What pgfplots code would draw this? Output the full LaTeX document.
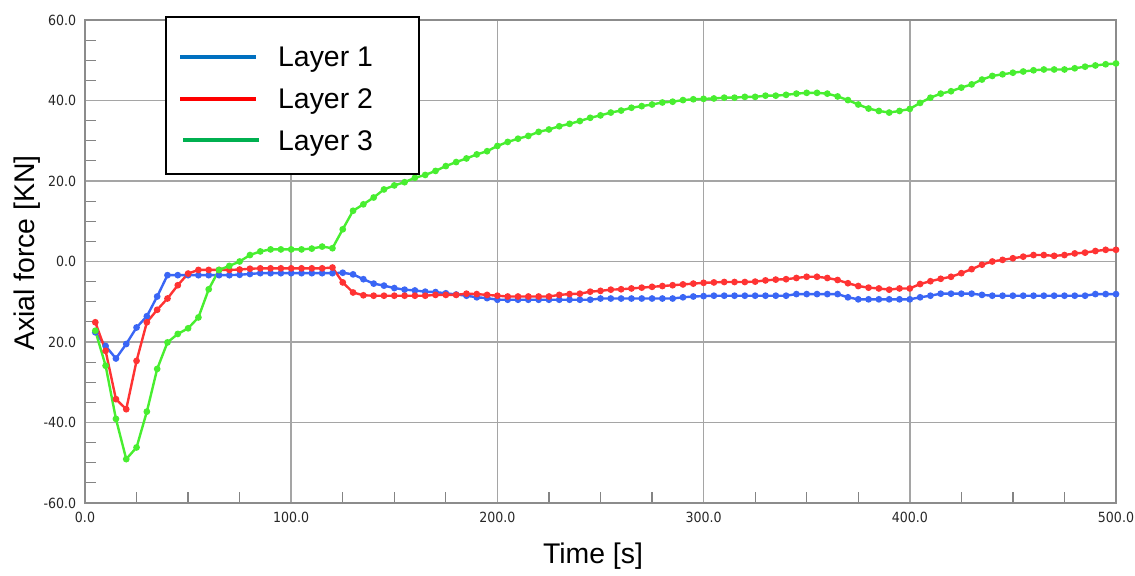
\documentclass[border=0pt]{standalone}
\usepackage{pgfplots}
\pgfplotsset{compat=1.18}
\usepackage{pgfplotstable}
\usepackage{fontspec}
\setmainfont{Liberation Sans}
\newfontfamily\tickfont{DejaVu Sans Condensed}
\definecolor{c1}{RGB}{58,102,245}
\definecolor{c2}{RGB}{255,51,51}
\definecolor{c3}{RGB}{72,238,48}
\definecolor{l1}{RGB}{0,112,192}
\definecolor{l2}{RGB}{255,0,0}
\definecolor{l3}{RGB}{0,176,80}
\definecolor{gridc}{RGB}{165,165,165}
\pgfplotstableread{
t L1 L2 L3
5 -17.6 -15.1 -17.2
10 -21.0 -22.2 -25.9
15 -24.1 -34.2 -39.1
20 -20.5 -36.7 -49.1
25 -16.4 -24.7 -46.2
30 -13.6 -15.1 -37.3
35 -8.7 -12.0 -26.7
40 -3.4 -9.2 -20.1
45 -3.4 -5.9 -18.0
50 -3.4 -3.0 -16.6
55 -3.4 -2.1 -13.9
60 -3.4 -2.1 -6.9
65 -3.4 -2.1 -2.1
70 -3.4 -2.1 -1.1
75 -3.3 -2.0 0.0
80 -3.1 -1.8 1.6
85 -2.9 -1.7 2.5
90 -2.9 -1.7 3.0
95 -2.9 -1.7 3.0
100 -2.9 -1.7 3.0
105 -2.9 -1.7 3.0
110 -2.9 -1.7 3.2
115 -2.9 -1.7 3.7
120 -2.9 -1.5 3.3
125 -2.8 -5.2 8.0
130 -3.2 -7.7 12.6
135 -4.4 -8.4 14.2
140 -5.5 -8.5 15.9
145 -6.0 -8.5 17.9
150 -6.6 -8.5 18.9
155 -7.0 -8.5 19.7
160 -7.2 -8.5 20.8
165 -7.5 -8.5 21.5
170 -7.6 -8.3 22.5
175 -7.9 -8.3 23.7
180 -8.2 -8.3 24.7
185 -8.5 -8.0 25.6
190 -8.9 -8.1 26.6
195 -9.1 -8.3 27.4
200 -9.5 -8.5 28.7
205 -9.5 -8.7 29.7
210 -9.5 -8.7 30.5
215 -9.5 -8.7 31.2
220 -9.5 -8.7 32.2
225 -9.5 -8.7 32.8
230 -9.5 -8.3 33.6
235 -9.5 -8.1 34.2
240 -9.5 -8.0 34.9
245 -9.5 -7.5 35.7
250 -9.2 -7.3 36.3
255 -9.2 -7.0 37.0
260 -9.2 -6.9 37.5
265 -9.2 -6.7 38.2
270 -9.2 -6.5 38.6
275 -9.2 -6.3 39.0
280 -9.2 -6.1 39.5
285 -9.2 -5.9 39.7
290 -8.9 -5.7 40.1
295 -8.7 -5.5 40.3
300 -8.6 -5.3 40.4
305 -8.5 -5.2 40.5
310 -8.5 -5.1 40.7
315 -8.5 -5.1 40.7
320 -8.5 -5.1 40.9
325 -8.5 -5.0 40.9
330 -8.5 -4.7 41.2
335 -8.5 -4.5 41.2
340 -8.5 -4.4 41.4
345 -8.1 -4.1 41.7
350 -8.1 -3.8 41.9
355 -8.1 -3.8 41.9
360 -8.1 -4.1 41.7
365 -8.1 -4.6 41.0
370 -8.9 -5.4 40.1
375 -9.4 -6.1 39.0
380 -9.4 -6.5 38.0
385 -9.4 -6.7 37.4
390 -9.4 -7.0 37.0
395 -9.4 -6.7 37.4
400 -9.4 -6.7 37.9
405 -8.9 -5.6 39.4
410 -8.5 -4.9 40.7
415 -8.0 -4.3 41.7
420 -8.0 -3.8 42.3
425 -8.0 -2.9 43.2
430 -8.0 -1.9 44.0
435 -8.3 -0.8 45.2
440 -8.5 0.0 46.1
445 -8.5 0.4 46.5
450 -8.5 0.8 46.9
455 -8.5 1.2 47.2
460 -8.5 1.6 47.5
465 -8.5 1.6 47.7
470 -8.5 1.4 47.7
475 -8.5 1.6 47.7
480 -8.5 2.0 48.0
485 -8.5 2.2 48.4
490 -8.1 2.6 48.7
495 -8.1 2.9 49.0
500 -8.1 2.9 49.2
}\data
\begin{document}
\begin{tikzpicture}
\begin{axis}[
  name=ax,
  scale only axis,
  width=515.5pt, height=241.5pt,
  xmin=0, xmax=500, ymin=-60, ymax=60,
  xtick={0,100,200,300,400,500},
  xticklabels={0.0,100.0,200.0,300.0,400.0,500.0},
  ytick={-60,-40,-20,0,20,40,60},
  yticklabels={-60.0,-40.0,20.0,0.0,20.0,40.0,60.0},
  minor tick num=3,
  tick pos=left,
  tick align=inside,
  major tick length=0pt,
  minor tick length=5.5pt,
  minor tick style={gridc!80!black, line width=0.6pt},
  grid=major,
  major grid style={gridc, line width=0.75pt},
  axis line style={gridc!85!black, line width=0.75pt},
  ticklabel style={font=\tickfont\fontsize{7}{8}\selectfont, text=black!85, inner sep=0pt},
  xticklabel style={yshift=-4.5pt},
  yticklabel style={xshift=-4.2pt},
  xlabel={Time [s]},
  ylabel={Axial force [KN]},
  label style={font=\fontsize{14.2}{16}\selectfont},
  xlabel style={at={(rel axis cs:0.4927,-0.1097)}, anchor=center},
  ylabel style={at={(rel axis cs:-0.0563,0.5176)}, anchor=center},
  legend style={at={(rel axis cs:0.0776,1.008)}, anchor=north west,
    draw=black, line width=1pt, inner xsep=6pt, inner ysep=10.4pt,
    font=\fontsize{14.2}{16}\selectfont, row sep=9.5pt,
    nodes={inner sep=0pt}, cells={anchor=base west}},
  every axis plot/.append style={line width=1.2pt, mark=*, mark size=1.05pt},
]
\addplot[color=c1, legend image code/.code={\draw[l1, line width=2pt] (0pt,5.1pt) -- (37.8pt,5.1pt);}] table[x=t, y=L1] {\data};
\addlegendentry{\hspace*{8.6pt}\rule{0pt}{14.5pt}Layer 1\hspace*{17pt}}
\addplot[color=c2, legend image code/.code={\draw[l2, line width=2pt] (0pt,5.1pt) -- (37.8pt,5.1pt);}] table[x=t, y=L2] {\data};
\addlegendentry{\hspace*{8.6pt}Layer 2\hspace*{17pt}}
\addplot[color=c3, legend image code/.code={\draw[l3, line width=2pt] (1.7pt,5.1pt) -- (39.5pt,5.1pt);}] table[x=t, y=L3] {\data};
\addlegendentry{\hspace*{8.6pt}Layer 3\hspace*{17pt}}
\end{axis}
\path (ax.south west) ++(-42.5pt,-34pt) coordinate (bl);
\path (ax.north east) ++(9.5pt,10pt) coordinate (tr);
\path (bl) rectangle (tr);
\end{tikzpicture}
\end{document}
